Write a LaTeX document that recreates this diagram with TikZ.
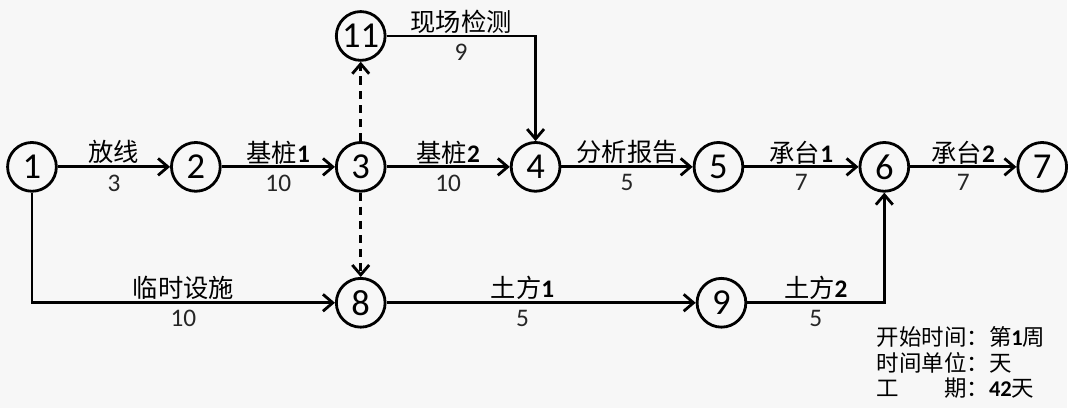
\documentclass[tikz,border=0pt]{standalone}
\usepackage{fontspec}
\setmainfont{Carlito}
\newfontfamily\cjk{Noto Sans CJK SC}
\usetikzlibrary{arrows.meta}
\usetikzlibrary{positioning}
\definecolor{fond}{RGB}{247,247,247}
\newcommand{\bnum}[1]{{\normalfont\bfseries #1}}
\tikzstyle{evt}=[
        circle,
        draw,
        line width=2pt,
        minimum size=1.22cm,
        inner sep=0pt,
        fill=fond,
        font=\fontsize{26}{26}\selectfont
]
\tikzstyle{tache}=[above,inner sep=1pt,font=\cjk\fontsize{18}{20}\selectfont]
\tikzstyle{duree}=[below,inner sep=4.5pt,text=black!85,font=\fontsize{18}{20}\selectfont]
\tikzstyle{legende}=[anchor=north west,align=left,inner sep=0pt,font=\cjk\fontsize{16}{18.4}\selectfont]
\tikzstyle{suite}=[-{Straight Barb[length=7pt,width=12pt]},line width=2pt]
\tikzstyle{fictif}=[suite,dash pattern=on 6pt off 4pt]

\begin{document}
\begin{tikzpicture}
\fill[fond] (-0.8,4.175) rectangle (25.9,-6.025);
\node[evt] (e1) at (0,0) {1};
\node[evt] (e2) at (4.1,0) {2};
\node[evt] (e3) at (8.225,0) {3};
\node[evt] (e4) at (12.6,0) {4};
\node[evt] (e5) at (17.175,0) {5};
\node[evt] (e6) at (21.325,0) {6};
\node[evt] (e7) at (25.275,0) {7};
\node[evt] (e11) at (8.225,3.275) {11};
\node[evt] (e8) at (8.225,-3.4) {8};
\node[evt] (e9) at (17.25,-3.4) {9};
\node[legende] (info) at (21.125,-3.98) {开始时间：第\bnum{1}周\\时间单位：天\\工\hspace{2em}期：\bnum{42}天};
%Placement des fleches
\draw[suite] (e1) -- node[tache] {放线} node[duree] {3} (e2);
\draw[suite] (e2) -- node[tache] {基桩\bnum{1}} node[duree] {10} (e3);
\draw[suite] (e3) -- node[tache] {基桩\bnum{2}} node[duree] {10} (e4);
\draw[suite] (e4) -- node[tache] {分析报告} node[duree] {5} (e5);
\draw[suite] (e5) -- node[tache] {承台\bnum{1}} node[duree] {7} (e6);
\draw[suite] (e6) -- node[tache] {承台\bnum{2}} node[duree] {7} (e7);
\draw[fictif] (e3) -- (e11);
\draw[fictif] (e3) -- (e8);
\draw[suite] (e11) -- node[tache] {现场检测} node[duree] {9} (e11 -| e4) -- (e4);
\draw[suite] (e1) |- node[tache,pos=0.75] {临时设施} node[duree,pos=0.75] {10} (e8);
\draw[suite] (e8) -- node[tache,pos=0.44] {土方\bnum{1}} node[duree,pos=0.44] {5} (e9);
\draw[suite] (e9) -| node[tache,pos=0.25] {土方\bnum{2}} node[duree,pos=0.25] {5} (e6);
\end{tikzpicture}
\end{document}
